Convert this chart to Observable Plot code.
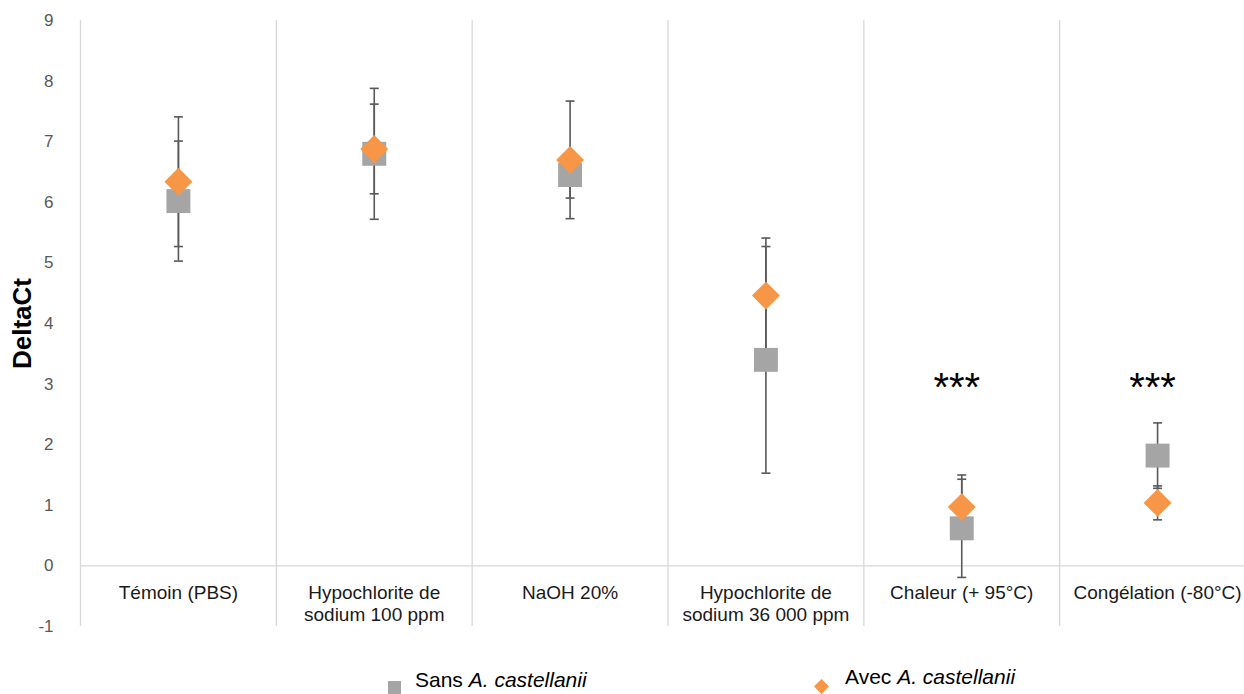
<!DOCTYPE html>
<html>
<head>
<meta charset="utf-8">
<script src="https://cdn.jsdelivr.net/npm/d3@7"></script>
<script src="https://cdn.jsdelivr.net/npm/@observablehq/plot@0.6"></script>
<style>
  body { margin: 0; background: #fff; font-family: "Liberation Sans", Arial, sans-serif; }
  #chart { position: relative; width: 1244px; height: 650px; }
  #legend { position: relative; width: 1244px; height: 44px; overflow: hidden; }
  .lg-text { position: absolute; font-size: 21px; color: #000; white-space: nowrap; line-height: 1; }
  .lg-sq { position: absolute; width: 13px; height: 13px; background: #A5A5A5; }
</style>
</head>
<body>
<div id="chart"></div>
<div id="legend"></div>
<script>
// ---- data ----
const categories = ["Témoin (PBS)", "Hypochlorite de\nsodium 100 ppm", "NaOH 20%", "Hypochlorite de\nsodium 36 000 ppm", "Chaleur (+ 95°C)", "Congélation (-80°C)"];
const sansMean = [6.02, 6.80, 6.45, 3.40, 0.62, 1.82];
const sansErr  = [0.99, 1.08, 0.38, 1.87, 0.81, 0.54];
const avecMean = [6.34, 6.88, 6.70, 4.46, 0.97, 1.04];
const avecErr  = [1.07, 0.74, 0.97, 0.95, 0.53, 0.28];
const signif   = ["", "", "", "", "***", "***"];
const signifY  = 3;
const yTicks = [-1, 0, 1, 2, 3, 4, 5, 6, 7, 8, 9];
const seriesNames = ["Sans A. castellanii", "Avec A. castellanii"];

// ---- build table ----
const rows = [];
categories.forEach((c, i) => {
  rows.push({i, pos: i + 0.5, series: "sans", mean: sansMean[i], err: sansErr[i]});
  rows.push({i, pos: i + 0.5, series: "avec", mean: avecMean[i], err: avecErr[i]});
});
const bounds = d3.range(categories.length + 1);
const catRows = categories.map((c, i) => ({label: c, pos: i + 0.5, sig: signif[i]}));

const capSymbol = {
  draw(ctx, size) { const w = 4.5; ctx.moveTo(-w, 0); ctx.lineTo(w, 0); }
};

const errColor = "#595959";
const chart = Plot.plot({
  width: 1244,
  height: 650,
  marginLeft: 80,
  marginRight: 0,
  marginTop: 20,
  marginBottom: 24,
  style: {fontFamily: "'Liberation Sans', Arial, sans-serif", background: "#fff", overflow: "hidden"},
  x: {domain: [0, categories.length], range: [80, 1255], axis: null},
  y: {domain: [-1, 9], axis: null},
  marks: [
    Plot.ruleX(bounds, {x: d => d, y1: -1, y2: 9, stroke: "#D9D9D9", strokeWidth: 1.3}),
    Plot.ruleY([0], {x1: 0, x2: categories.length, stroke: "#D9D9D9", strokeWidth: 1.3}),
    Plot.axisY({ticks: yTicks, tickSize: 0, tickPadding: 27, fontSize: 17, color: "#595959", label: null, tickFormat: d => d}),
    Plot.text(["DeltaCt"], {frameAnchor: "left", textAnchor: "middle", dx: -58, rotate: -90, fontSize: 26, fontWeight: "bold", fill: "#000"}),
    Plot.text(catRows, {x: "pos", y: 0, text: "label", dy: 17, lineAnchor: "top", lineHeight: 1.16, fontSize: 19, fill: "#1a1a1a"}),
    // error bars
    Plot.ruleX(rows, {x: "pos", y1: d => d.mean - d.err, y2: d => d.mean + d.err, stroke: errColor, strokeWidth: 1.6}),
    Plot.dot(rows, {x: "pos", y: d => d.mean + d.err, symbol: capSymbol, r: 5, stroke: errColor, strokeWidth: 1.6, fill: "none"}),
    Plot.dot(rows, {x: "pos", y: d => d.mean - d.err, symbol: capSymbol, r: 5, stroke: errColor, strokeWidth: 1.6, fill: "none"}),
    // markers
    Plot.dot(rows.filter(d => d.series === "sans"), {x: "pos", y: "mean", symbol: "square", r: 13.5, fill: "#A5A5A5", stroke: "none"}),
    Plot.dot(rows.filter(d => d.series === "avec"), {x: "pos", y: "mean", symbol: "diamond2", r: 12.6, fill: "#F79646", stroke: "none"}),
    // significance
    Plot.text(catRows.filter(d => d.sig), {x: "pos", y: () => signifY, text: "sig", fontSize: 40, dx: -5, dy: 4, fill: "#000"})
  ]
});
document.getElementById("chart").appendChild(chart);

// ---- legend ----
const lg = document.getElementById("legend");
lg.innerHTML = `
  <div class="lg-sq" style="left:388px; top:31px;"></div>
  <div class="lg-text" style="left:415px; top:19px;">Sans <i>A. castellanii</i></div>
  <svg style="position:absolute; left:812px; top:29px;" width="20" height="20"><path d="M9.5,0L17,7.5L9.5,15L2,7.5Z" fill="#F79646"/></svg>
  <div class="lg-text" style="left:845px; top:16px;">Avec <i>A. castellanii</i></div>
`;
</script>
</body>
</html>
